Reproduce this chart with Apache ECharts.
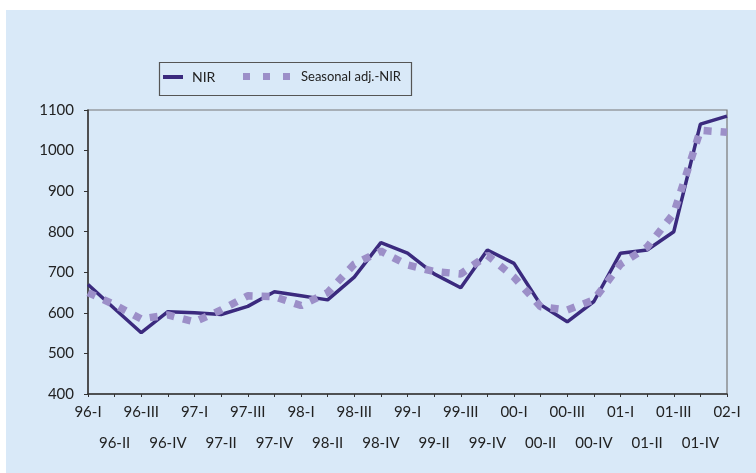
<!DOCTYPE html>
<html>
<head>
<meta charset="utf-8">
<script src="https://cdn.jsdelivr.net/npm/echarts@6/dist/echarts.min.js"></script>
<style>
  html, body { margin: 0; padding: 0; background: #ffffff; }
  #chart { position: absolute; left: 6px; top: 10px; width: 750px; height: 463px; }
</style>
</head>
<body>
<div id="chart"></div>
<script>
// quarters 96-I .. 02-I
const quarters = ['96-I','96-II','96-III','96-IV','97-I','97-II','97-III','97-IV',
  '98-I','98-II','98-III','98-IV','99-I','99-II','99-III','99-IV',
  '00-I','00-II','00-III','00-IV','01-I','01-II','01-III','01-IV','02-I'];

// values
const nir = [670, 610, 551, 603, 600, 596, 616, 652, 642, 632, 688, 773, 747,
  696, 662, 755, 722, 620, 578, 628, 747, 755, 800, 1065, 1085];
const seasonalNir = [650, 620, 585, 595, 578, 607, 642, 640, 618, 650, 720, 752, 718,
  702, 696, 742, 688, 615, 607, 632, 720, 762, 845, 1050, 1045];

const yTicks = [400, 500, 600, 700, 800, 900, 1000, 1100];

const textColor = '#222';
const font = 'Lato';

const chart = echarts.init(document.getElementById('chart'));

const option = {
  backgroundColor: '#d9e9f8',
  animation: false,
  graphic: [{
    type: 'rect',
    left: 151, top: 50,
    shape: { width: 252, height: 33 },
    style: { fill: 'none', stroke: '#555', lineWidth: 1.2 },
    z: 0
  }],
  legend: [{
    data: ['NIR'],
    left: 157, top: 60,
    padding: 0,
    icon: 'rect',
    itemWidth: 20, itemHeight: 4,
    textStyle: { color: textColor, fontSize: 14, fontFamily: font, padding: [0, 0, 0, 4] }
  }, {
    data: [{ name: 'Seasonal adj.-NIR', icon: 'path://M0,0h7v7h-7z M20,0h7v7h-7z M40,0h7v7h-7z' }],
    left: 237, top: 60,
    padding: 0,
    itemWidth: 47, itemHeight: 7,
    textStyle: { color: textColor, fontSize: 13, fontFamily: font, padding: [0, 0, 0, 6] }
  }],
  grid: {
    left: 82, right: 29, top: 100, bottom: 79,
    show: true, borderColor: '#777', borderWidth: 1.2
  },
  xAxis: {
    type: 'category',
    data: quarters,
    boundaryGap: false,
    axisLine: { lineStyle: { color: '#333', width: 1.5 } },
    axisTick: { length: 3, interval: 0, lineStyle: { color: '#333' } },
    axisLabel: {
      interval: 0,
      color: textColor,
      fontSize: 15,
      fontFamily: font,
      margin: 3,
      lineHeight: 31,
      verticalAlign: 'top',
      formatter: (v, i) => (i % 2 ? '\n' + v : v)
    },
    splitLine: { show: false }
  },
  yAxis: {
    type: 'value',
    min: yTicks[0],
    max: yTicks[yTicks.length - 1],
    interval: 100,
    axisLine: { show: true, lineStyle: { color: '#333', width: 1.5 } },
    axisTick: { show: true, length: 4, lineStyle: { color: '#333' } },
    axisLabel: {
      color: textColor, fontSize: 15, fontFamily: font, margin: 14,
      formatter: v => String(v)
    },
    splitLine: { show: false }
  },
  series: [{
    name: 'NIR',
    type: 'line',
    data: nir,
    symbol: 'none',
    color: '#3b2a7e',
    lineStyle: { color: '#3b2a7e', width: 3.5 },
    z: 2
  }, {
    name: 'Seasonal adj.-NIR',
    type: 'line',
    data: seasonalNir,
    symbol: 'none',
    color: '#9c8fc8',
    lineStyle: { color: '#9c8fc8', width: 7.5, type: [8, 9], cap: 'butt' },
    z: 3
  }]
};

chart.setOption(option);
</script>
</body>
</html>
